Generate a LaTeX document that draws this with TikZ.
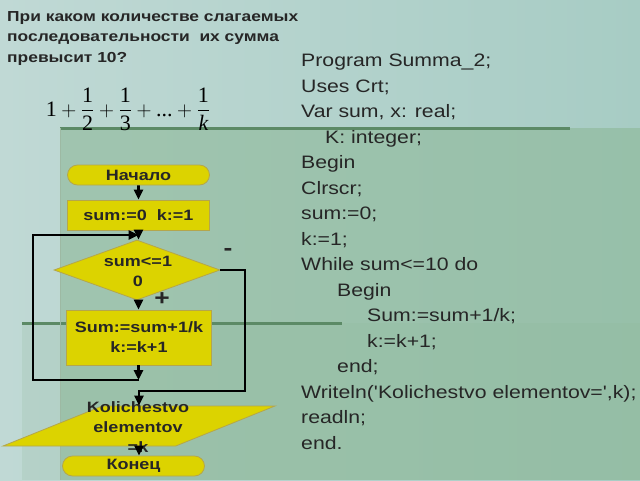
\documentclass[tikz,border=0pt]{standalone}
\usepackage{amsmath}
\usepackage{fontspec}
\newfontfamily\arialfont[FakeStretch=1.2]{Liberation Sans}
\newfontfamily\codefont[FakeStretch=1.18]{Liberation Sans}
\newfontfamily\timesfont{Liberation Serif}
\usetikzlibrary{shapes.geometric,shapes.misc,arrows.meta,positioning}

\definecolor{bgleft}{HTML}{C0D9D5}
\definecolor{bgright}{HTML}{A7CCC4}
\definecolor{panelgreen}{HTML}{8DB898}
\definecolor{edgegreen}{HTML}{5C8A66}
\definecolor{boxyellow}{HTML}{DCD300}
\definecolor{boxedge}{HTML}{B4A64C}
\definecolor{inktext}{HTML}{262626}

\newcommand\tm[1]{\text{\timesfont #1}}

\tikzset{
  block/.style={draw=boxedge, fill=boxyellow, line width=0.8pt, inner sep=0pt,
    minimum width=142, minimum height=30, text=inktext,
    font=\arialfont\bfseries\fontsize{15}{20}\selectfont, align=center},
  terminal/.style={block, rounded rectangle, minimum height=20},
  label/.style={inner sep=0pt, text=inktext, font=\arialfont\bfseries\fontsize{15}{20}\selectfont, align=center},
  flow/.style={line width=2.6pt, -{Triangle[length=10pt,width=9pt]}},
  codeline/.style={anchor=base west, inner sep=0pt, text=inktext,
    font=\codefont\fontsize{18}{20}\selectfont},
}

\begin{document}
\begin{tikzpicture}[x=1pt,y=-1pt]
  \useasboundingbox (0,0) rectangle (640,480);
  % background
  \fill[left color=bgleft, right color=bgright] (0,0) rectangle (640,480);
  \fill[panelgreen, opacity=0.6] (60,128) rectangle (640,480);
  \fill[panelgreen, opacity=0.2] (22,323) rectangle (640,480);
  \draw[edgegreen, line width=3pt] (60,128) -- (570,128);
  \draw[edgegreen, line width=3pt] (22,323) -- (342,323);
  \draw[edgegreen!60, line width=1pt] (60,128) -- (60,480);

  % task
  \node[anchor=north west, inner sep=0pt, align=left, text=inktext,
    font=\arialfont\bfseries\fontsize{14.5}{20.7}\selectfont] (task) at (7,11)
    {При каком количестве слагаемых\\последовательности\ \ их сумма\\превысит 10?};
  \node[inner sep=0pt, font=\fontsize{22}{26}\selectfont] (series) at (128,109)
    {$\displaystyle \tm{1}+\frac{\tm{1}}{\tm{2}}+\frac{\tm{1}}{\tm{3}}+\tm{...}+\frac{\tm{1}}{\tm{\itshape k}}$};

  % flowchart
  \node[terminal] (start) at (138.5,175) {Начало};
  \node[block] (init) at (138.5,215) {sum:=0\ \ k:=1};
  \node[diamond, draw=boxedge, fill=boxyellow, line width=0.8pt, inner sep=2pt,
    minimum width=166, minimum height=60] (cond) at (137,270) {};
  \node[label] (condtext) at (138,271.5) {sum<=1\\0};
  \node[block, minimum width=145, minimum height=55] (body) at (139,337.5)
    {Sum:=sum+1/k\\k:=k+1};
  \node[trapezium, trapezium left angle=36.5, trapezium right angle=143.5,
    trapezium stretches=true, draw=boxedge, fill=boxyellow, line width=0.8pt,
    inner sep=2pt, minimum width=272, minimum height=40] (outp) at (139,426) {};
  \node[label] (outptext) at (138,427) {Kolichestvo\\elementov\\=k};
  \node[terminal] (stop) at (133.5,466) {Конец};

  \coordinate (loopturn) at (138.5,380);
  \coordinate (loopleft) at (33,380);
  \coordinate (merge) at (138.5,235);
  \coordinate (exitturn) at (245,391);

  \draw[flow] (start) -- (init);
  \draw[flow] (init) -- (init.south |- cond.north);
  \draw[flow] (cond.south -| init.south) -- (body.north -| init.south);
  \draw[flow] (body.south -| init.south) -- (loopturn);
  \draw[flow] (loopturn) -- (loopleft) |- (merge);
  \draw[flow] (cond.east) -| (exitturn) -| (outp.north);
  \draw[flow] (outp.south) -- (outp.south |- stop.north);

  \node[label, font=\arialfont\bfseries\fontsize{22}{22}\selectfont] (minus) at (228,252) {-};
  \node[label, font=\arialfont\bfseries\fontsize{22}{22}\selectfont] (plus) at (162,299) {+};

  % program
  \foreach \y/\x/\t in {
    0/301/{Program Summa\_2;},
    1/301/{Uses Crt;},
    2/301/{Var sum, x: real;},
    3/325/{K: integer;},
    4/301/{Begin},
    5/301/{Clrscr;},
    6/301/{sum:=0;},
    7/301/{k:=1;},
    8/301/{While sum<=10 do},
    9/337/{Begin},
    10/367/{Sum:=sum+1/k;},
    11/367/{k:=k+1;},
    12/337/{end;},
    13/301/{Writeln('Kolichestvo elementov=',k);},
    14/301/{readln;},
    15/301/{end.}} {
    \node[codeline] (code\y) at (\x,66.5+25.5*\y) {\t};
  }
\end{tikzpicture}
\end{document}
